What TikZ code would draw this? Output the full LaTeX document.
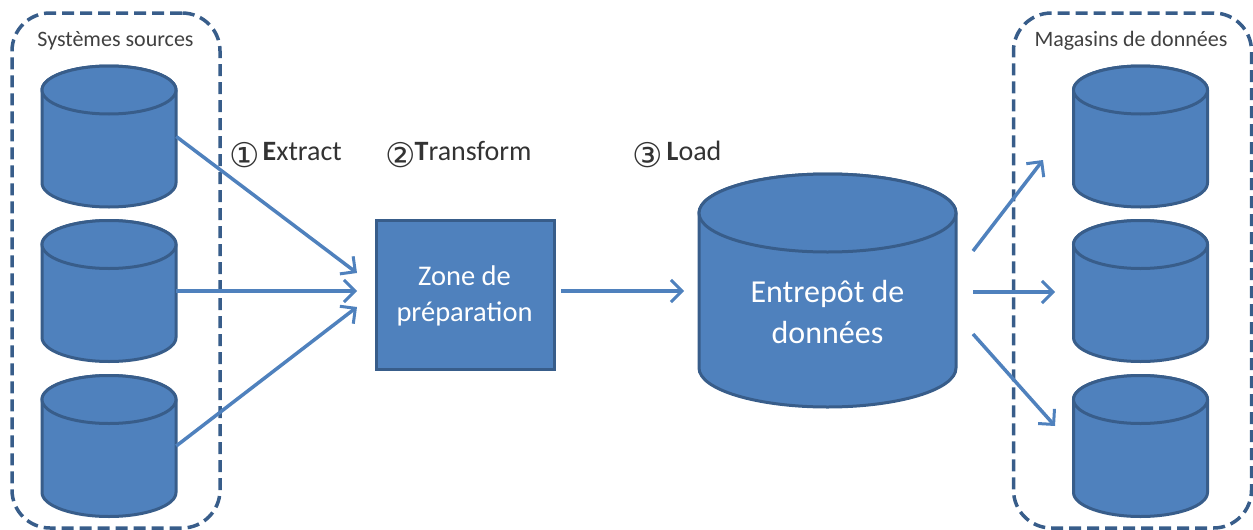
\documentclass[tikz,border=0pt]{standalone}
\usepackage{fontspec}
\setmainfont{Carlito}
\newfontfamily\circfont{DejaVu Sans}
\usetikzlibrary{arrows.meta}
\definecolor{bluefill}{HTML}{4F81BD}
\definecolor{blueline}{HTML}{385D8A}
\tikzstyle{base} = [draw=blueline, fill=bluefill, line width=3pt]
\tikzstyle{dbtext} = [text=white, font=\fontsize{32}{41}\selectfont, align=center, inner sep=0pt]
\tikzstyle{zone} = [base, minimum width=178pt, minimum height=149pt]
\tikzstyle{zonetext} = [text=white, font=\fontsize{28.5}{36}\selectfont, align=center, inner sep=0pt]
\tikzstyle{group} = [draw=blueline, line width=3.5pt, dash pattern=on 12pt off 6pt, rounded corners=38pt]
\tikzstyle{title} = [font=\fontsize{22}{26}\selectfont, text=black!75]
\tikzstyle{steplabel} = [font=\fontsize{28}{33}\selectfont, text=black!80, inner sep=0pt, anchor=base west]
\tikzstyle{flow} = [draw=bluefill, line width=3.5pt, -{Straight Barb[length=11pt,width=22pt,line width=3pt]}]
\newcommand{\stepnum}[1]{\raisebox{-7pt}{\circfont\fontsize{34}{36}\selectfont #1}}
% half width, half height, ellipse height
\tikzset{pics/dbcyl/.style n args={3}{code={
	\draw[base] (-#1pt,#2pt-#3pt) -- (-#1pt,-#2pt+#3pt) arc (180:360:#1pt and #3pt) -- (#1pt,#2pt-#3pt) arc (0:180:#1pt and #3pt) -- cycle;
	\draw[base] (0pt,#2pt-#3pt) ellipse [x radius=#1pt, y radius=#3pt];
	\node[inner sep=0pt, minimum width=2*#1pt, minimum height=2*#2pt] (-body) {};
}}}

\begin{document}
\begin{tikzpicture}[x=1pt,y=-1pt]
	\useasboundingbox (0,0) rectangle (1253,530);
	% groups
	\node[group, minimum width=208pt, minimum height=515pt] (srcgroup) at (116,270.5) {};
	\node[group, minimum width=238pt, minimum height=515pt] (martgroup) at (1132.5,270.5) {};
	\node[title] (srctitle) at (115.5,41) {Systèmes sources};
	\node[title] (marttitle) at (1131,41) {Magasins de données};
	% sources
	\pic (src1) at (109,136.5) {dbcyl={67}{70.5}{24}};
	\pic (src2) at (109,291) {dbcyl={67}{70.5}{24}};
	\pic (src3) at (109,446) {dbcyl={67}{70.5}{24}};
	% middle
	\node[zone] (prep) at (465,294.5) {};
	\node[zonetext] (preptext) at (464.5,296) {Zone de\\préparation};
	\pic (dw) at (827.5,290.5) {dbcyl={128.5}{116.5}{39}};
	\node[dbtext] (dwtext) at (827.5,312.5) {Entrepôt de\\données};
	% marts
	\pic (mart1) at (1140.5,136.5) {dbcyl={67}{70.5}{24}};
	\pic (mart2) at (1140.5,291) {dbcyl={67}{70.5}{24}};
	\pic (mart3) at (1140.5,446) {dbcyl={67}{70.5}{24}};
	% labels
	\node[steplabel] (extract) at (229,160) {\stepnum{①}\kern3pt\textbf{E}xtract};
	\node[steplabel] (transform) at (385,160) {\stepnum{②}\kern-1pt\textbf{T}ransform};
	\node[steplabel] (load) at (632,160) {\stepnum{③}\kern4pt\textbf{L}oad};
	% free ends of the arrows
	\coordinate (in1) at (357,273);
	\coordinate (in2) at (357,291);
	\coordinate (in3) at (357,307);
	\coordinate (prepout) at (561,291);
	\coordinate (dwin) at (684,291);
	\coordinate (dwout1) at (973,251);
	\coordinate (dwout2) at (973,292);
	\coordinate (dwout3) at (973,334);
	\coordinate (martin1) at (1043,160);
	\coordinate (martin2) at (1055,292);
	\coordinate (martin3) at (1055,426);
	% arrows
	\draw[flow] (src1-body.east) -- (in1);
	\draw[flow] (src2-body.east) -- (in2);
	\draw[flow] (src3-body.east) -- (in3);
	\draw[flow] (prepout) -- (dwin);
	\draw[flow] (dwout1) -- (martin1);
	\draw[flow] (dwout2) -- (martin2);
	\draw[flow] (dwout3) -- (martin3);
\end{tikzpicture}
\end{document}
